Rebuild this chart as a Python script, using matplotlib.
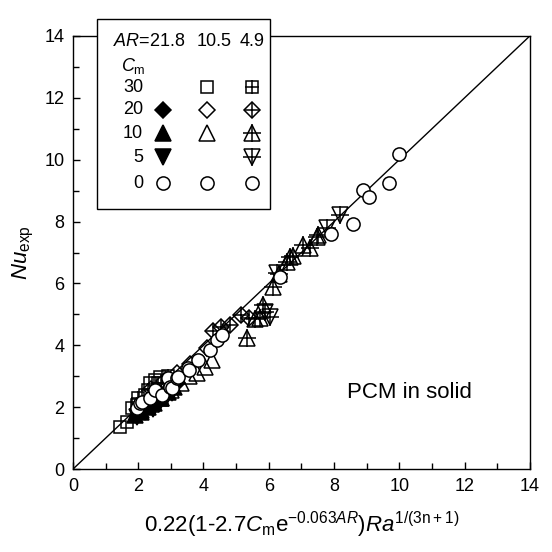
import numpy as np
import matplotlib
matplotlib.use("Agg")
import matplotlib.pyplot as plt
from matplotlib.lines import Line2D
from matplotlib.patches import Rectangle

plt.rcParams['font.family'] = ['Liberation Sans', 'DejaVu Sans']
plt.rcParams['mathtext.fontset'] = 'custom'
plt.rcParams['mathtext.rm'] = 'Liberation Sans'
plt.rcParams['mathtext.it'] = 'Liberation Sans:italic'

# Cm = 0 (all AR), open circles
circ_x = [1.96, 2.05, 2.11, 2.36, 2.51, 2.73, 2.91, 2.97, 3.03, 3.19, 3.22, 3.52, 3.55,
          3.83, 4.2, 4.41, 4.56, 6.34, 7.9, 8.58, 8.88, 9.07, 9.68, 10.0]
circ_y = [1.97, 2.13, 2.17, 2.3, 2.55, 2.39, 2.94, 2.65, 2.62, 2.94, 2.97, 3.27, 3.2,
          3.52, 3.85, 4.17, 4.33, 6.21, 7.6, 7.92, 9.02, 8.79, 9.25, 10.18]
# AR = 10.5, Cm = 30
sq_x = [1.44, 1.65, 1.81, 1.96, 2.2, 2.36, 2.51, 2.67]
sq_y = [1.36, 1.52, 1.97, 2.07, 2.39, 2.78, 2.88, 2.97]
# AR = 4.9, Cm = 30
sqp_x = [2.0, 2.3, 2.6, 2.9]
sqp_y = [2.3, 2.55, 2.8, 3.0]
# AR = 21.8, Cm = 20
dfill_x = [2.0, 2.3, 2.6, 2.9, 3.2]
dfill_y = [1.95, 2.1, 2.3, 2.55, 2.8]
# AR = 10.5, Cm = 20
dopen_x = [2.4, 2.8, 3.2, 3.6, 4.1]
dopen_y = [2.6, 2.85, 3.1, 3.4, 3.9]
# AR = 4.9, Cm = 20
dcross_x = [4.3, 4.55, 4.8, 5.15, 5.4]
dcross_y = [4.45, 4.6, 4.66, 4.98, 4.9]
# AR = 21.8, Cm = 10
tfill_x = [1.9, 2.1, 2.3, 2.5, 2.7, 2.9, 3.1]
tfill_y = [1.75, 1.85, 2.0, 2.15, 2.3, 2.5, 2.65]
# AR = 10.5, Cm = 10
topen_x = [2.1, 2.4, 2.7, 3.0, 3.3, 3.55, 3.8, 4.04, 4.26]
topen_y = [1.9, 2.1, 2.3, 2.55, 2.8, 3.0, 3.1, 3.3, 3.52]
# AR = 4.9, Cm = 10
tcross_x = [5.33, 5.58, 5.73, 5.82, 6.13, 6.3, 6.55, 6.65, 6.75, 7.05, 7.26, 7.47, 7.5]
tcross_y = [4.25, 4.85, 4.88, 5.3, 5.88, 6.3, 6.69, 6.85, 6.9, 7.24, 7.15, 7.5, 7.57]
# AR = 21.8, Cm = 5
vfill_x = [1.95, 2.2, 2.45, 2.65, 2.85, 3.05]
vfill_y = [1.7, 1.85, 1.95, 2.1, 2.3, 2.45]
# AR = 4.9, Cm = 5
vcross_x = [5.88, 6.03, 6.25, 7.78, 8.18]
vcross_y = [5.08, 4.91, 6.34, 7.79, 8.21]

line_x = [0, 14]

fig = plt.figure(figsize=(5.52, 5.52), dpi=100)
ax = fig.add_axes([0.132, 0.150, 0.828, 0.785])

lw = 1.1
styles = {
    'circ': [dict(marker='o', ms=9.5, mfc='white', mec='k')],
    'sq': [dict(marker='s', ms=8.5, mfc='none', mec='k')],
    'sqp': [dict(marker='s', ms=8.5, mfc='none', mec='k'), dict(marker='+', ms=10, mec='k')],
    'dfill': [dict(marker='D', ms=8.5, mfc='k', mec='k')],
    'dopen': [dict(marker='D', ms=8.5, mfc='none', mec='k')],
    'dcross': [dict(marker='D', ms=8.5, mfc='none', mec='k'), dict(marker='+', ms=12, mec='k')],
    'tfill': [dict(marker='^', ms=11, mfc='k', mec='k')],
    'topen': [dict(marker='^', ms=11, mfc='none', mec='k')],
    'tcross': [dict(marker='^', ms=11, mfc='none', mec='k'), dict(marker='+', ms=13, mec='k')],
    'vfill': [dict(marker='v', ms=11, mfc='k', mec='k')],
    'vcross': [dict(marker='v', ms=11, mfc='none', mec='k'), dict(marker='+', ms=13, mec='k')],
}


def draw(target, x, y, kind, z=3, **kw):
    for st in styles[kind]:
        target.plot(x, y, ls='none', mew=lw, zorder=z, clip_on=False, **st, **kw)


ax.plot(line_x, line_x, color='k', lw=1.0, zorder=2)
draw(ax, tfill_x, tfill_y, 'tfill')
draw(ax, vfill_x, vfill_y, 'vfill')
draw(ax, dfill_x, dfill_y, 'dfill')
draw(ax, topen_x, topen_y, 'topen')
draw(ax, dopen_x, dopen_y, 'dopen')
draw(ax, tcross_x, tcross_y, 'tcross')
draw(ax, vcross_x, vcross_y, 'vcross')
draw(ax, dcross_x, dcross_y, 'dcross')
draw(ax, sq_x, sq_y, 'sq')
draw(ax, sqp_x, sqp_y, 'sqp')
draw(ax, circ_x, circ_y, 'circ', z=4)

ax.set_xlim(0, 14)
ax.set_ylim(0, 14)
ax.set_xticks(np.arange(0, 15, 2))
ax.set_yticks(np.arange(0, 15, 2))
ax.set_xticks(np.arange(1, 14, 2), minor=True)
ax.set_yticks(np.arange(1, 14, 2), minor=True)
ax.tick_params(which='both', direction='in', top=False, right=False, labelsize=13, width=1.0)
ax.tick_params(which='major', length=5, pad=6)
ax.tick_params(which='minor', length=4)
for s in ax.spines.values():
    s.set_linewidth(1.0)

ax.set_xlabel(r'0.22(1-2.7$C_{\mathrm{m}}$e$^{\mathrm{-0.063}AR}$)$Ra^{\mathrm{1/(3n+1)}}$',
              fontsize=16, labelpad=11)
ax.set_ylabel(r'$Nu_{\mathrm{exp}}$', fontsize=16, labelpad=6)
ax.text(0.737, 0.176, 'PCM in solid', transform=ax.transAxes, ha='center', va='center', fontsize=16)

# custom legend table
W = 552.0


def fx(px):
    return px / W


def fy(py):
    return 1 - py / W


fig.add_artist(Rectangle((fx(97), fy(209)), fx(270) - fx(97), fy(19) - fy(209),
                         transform=fig.transFigure, fill=True, fc='white', ec='k', lw=1.0, zorder=5))
fig.text(fx(113), fy(42), r'$AR$=21.8', fontsize=13, va='center', ha='left', zorder=6)
fig.text(fx(214), fy(42), '10.5', fontsize=13, va='center', ha='center', zorder=6)
fig.text(fx(252), fy(42), '4.9', fontsize=13, va='center', ha='center', zorder=6)
fig.text(fx(121), fy(66), r'$C_{\mathrm{m}}$', fontsize=13, va='center', ha='left', zorder=6)

cm_labels = ['30', '20', '10', '5', '0']
row_py = [87, 110, 133, 157, 183]
col_px = [163, 207, 252]
table = [[None, 'sq', 'sqp'],
         ['dfill', 'dopen', 'dcross'],
         ['tfill', 'topen', 'tcross'],
         ['vfill', None, 'vcross'],
         ['circ', 'circ', 'circ']]
for lab, py, row in zip(cm_labels, row_py, table):
    fig.text(fx(143), fy(py), lab, fontsize=13, va='center', ha='right', zorder=6)
    for px, kind in zip(col_px, row):
        if kind is None:
            continue
        for st in styles[kind]:
            fig.add_artist(Line2D([fx(px)], [fy(py)], ls='none', mew=lw, transform=fig.transFigure,
                                  zorder=6, **st))

fig.savefig('out.png', dpi=100)
